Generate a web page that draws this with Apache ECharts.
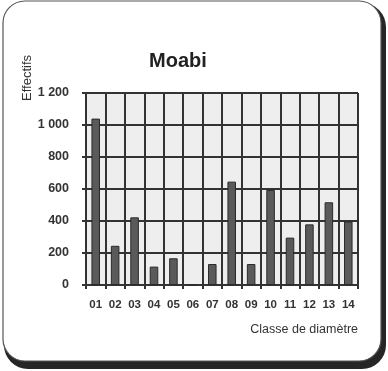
<!DOCTYPE html>
<html>
<head>
<meta charset="utf-8">
<script src="https://cdn.jsdelivr.net/npm/echarts@6/dist/echarts.min.js"></script>
<style>
  html, body { margin: 0; padding: 0; background: #ffffff; }
  #chart { width: 388px; height: 371px; }
</style>
</head>
<body>
<div id="chart"></div>
<script>
// Diameter classes and tree counts (Moabi)
const classes = ['01', '02', '03', '04', '05', '06', '07', '08', '09', '10', '11', '12', '13', '14'];
const effectifs = [1040, 245, 423, 115, 167, 0, 131, 646, 131, 594, 296, 379, 517, 396];
const yTicks = { min: 0, max: 1200, step: 200 };

const chart = echarts.init(document.getElementById('chart'), null, { renderer: 'canvas' });

function spaced(v) {
  return String(v).replace(/\B(?=(\d{3})+(?!\d))/g, ' ');
}

chart.setOption({
  backgroundColor: '#ffffff',
  animation: false,
  textStyle: { fontFamily: 'Liberation Sans, Arial, sans-serif' },
  graphic: [
    // drop shadow of the frame
    {
      type: 'rect', z: -10,
      shape: { x: 4, y: 3, width: 382, height: 366, r: 24 },
      style: { fill: '#262626' }
    },
    // framed card
    {
      type: 'rect', z: -9,
      shape: { x: 3, y: 1, width: 378, height: 360, r: 22 },
      style: { fill: '#ffffff', stroke: '#555555', lineWidth: 1.2 }
    }
  ],
  title: {
    text: 'Moabi',
    left: 173, top: 46, textAlign: 'center',
    textStyle: { fontSize: 20, fontWeight: 'bold', color: '#222222' }
  },
  grid: {
    left: 86, right: 30, top: 93, bottom: 86,
    show: true, backgroundColor: '#eeeeee', borderColor: '#9a9a9a', borderWidth: 1
  },
  xAxis: {
    type: 'category',
    data: classes,
    name: 'Classe de diamètre',
    nameLocation: 'end',
    nameGap: 0,
    nameTextStyle: { fontSize: 12.5, color: '#333333', align: 'right', verticalAlign: 'top', padding: [38, 0, 0, 0] },
    axisLine: { show: true, lineStyle: { color: '#333333', width: 2 } },
    axisTick: { show: true, length: 4, lineStyle: { color: '#333333', width: 2 } },
    axisLabel: { fontSize: 11.5, fontWeight: 'bold', color: '#333333', margin: 14 },
    splitLine: { show: true, lineStyle: { color: '#333333', width: 2 } }
  },
  yAxis: {
    type: 'value',
    min: yTicks.min, max: yTicks.max, interval: yTicks.step,
    name: 'Effectifs',
    nameLocation: 'end',
    nameRotate: 90,
    nameGap: -8,
    nameTextStyle: { fontSize: 13, color: '#333333', align: 'left', verticalAlign: 'bottom', padding: [0, 0, 52, 0] },
    axisLine: { show: true, lineStyle: { color: '#333333', width: 2 } },
    axisTick: { show: true, length: 4, lineStyle: { color: '#333333', width: 2 } },
    axisLabel: { fontSize: 12.5, fontWeight: 'bold', color: '#333333', margin: 17, formatter: spaced },
    splitLine: { show: true, lineStyle: { color: '#333333', width: 2 } }
  },
  series: [{
    type: 'bar',
    data: effectifs,
    barWidth: '44%',
    itemStyle: { color: '#5a5a5a', borderColor: '#2a2a2a', borderWidth: 1 }
  }]
});
</script>
</body>
</html>
